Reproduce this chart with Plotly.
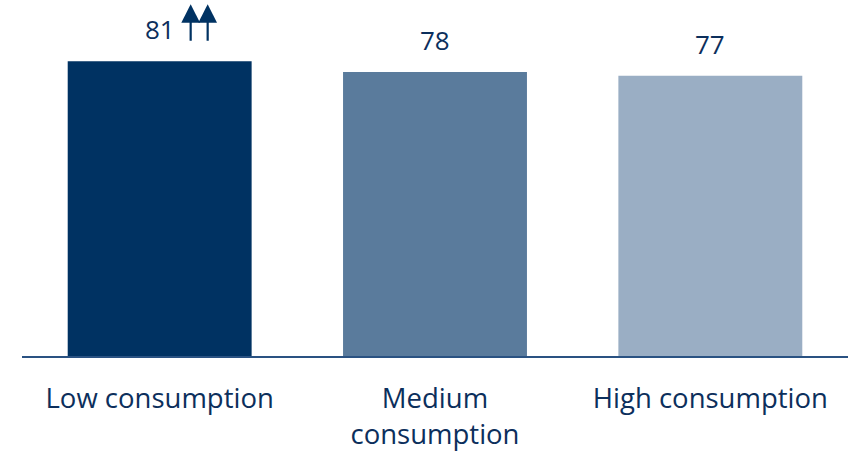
import plotly.graph_objects as go

categories = ["Low consumption", "Medium<br>consumption", "High consumption"]
values = [81, 78, 77]
bar_colors = ["#003262", "#5a7b9c", "#9aaec4"]
text_color = "#0c2f5c"

fig = go.Figure(
    go.Bar(
        x=categories,
        y=values,
        marker=dict(color=bar_colors, line=dict(width=0)),
        width=0.668,
        hoverinfo="x+y",
    )
)

# value labels above each bar
for cat, val in zip(categories, values):
    fig.add_annotation(
        x=cat, y=val, xref="x", yref="y",
        text=str(val), showarrow=False, yanchor="bottom", yshift=12,
        font=dict(family="Open Sans", size=26, color=text_color),
    )

# two upward arrows next to the first value label
for shift in (31, 48):
    fig.add_annotation(
        x=categories[0], y=values[0], xref="x", yref="y",
        ax=0, ay=38, axref="pixel", ayref="pixel",
        text="", showarrow=True, arrowhead=2, arrowsize=1.7, arrowwidth=2.2,
        arrowcolor="#003262", xshift=shift, yshift=57,
    )

fig.update_layout(
    width=858, height=454,
    margin=dict(l=22, r=10, t=0, b=98),
    paper_bgcolor="white", plot_bgcolor="white",
    showlegend=False,
    font=dict(family="Open Sans", color=text_color),
    xaxis=dict(
        showline=True, linecolor="#2a5282", linewidth=2,
        tickfont=dict(family="Open Sans", size=27.5, color=text_color),
        ticks="", showgrid=False, ticklabelstandoff=17,
    ),
    yaxis=dict(range=[0, 356 / 3.64], visible=False, showgrid=False),
)

fig.write_html("out.html")
